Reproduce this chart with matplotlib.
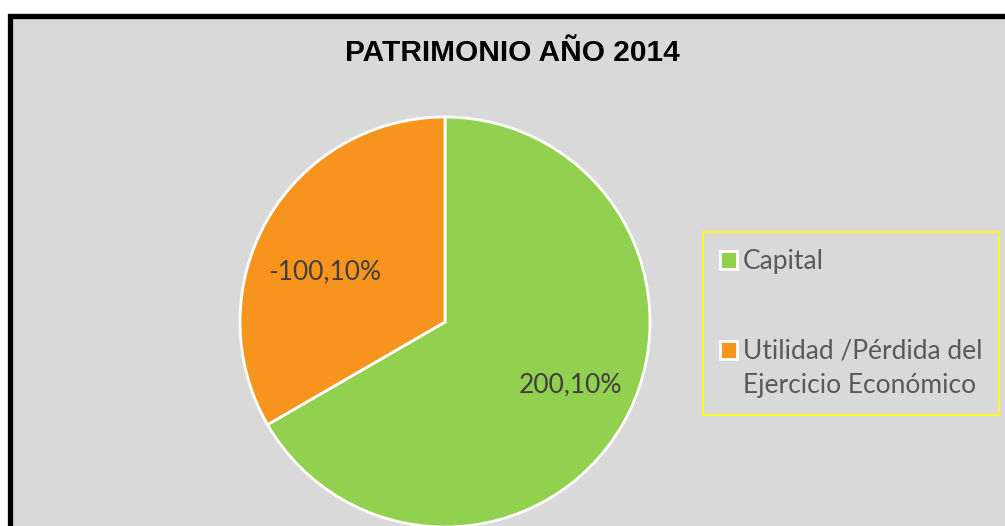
import matplotlib
matplotlib.use("Agg")
import matplotlib.pyplot as plt
from matplotlib.patches import Rectangle
from matplotlib.legend_handler import HandlerPatch

titulo = 'PATRIMONIO AÑO 2014'
categorias = ['Capital', 'Utilidad /Pérdida del\nEjercicio Económico']
valores = [200.10, -100.10]
etiquetas = ['200,10%', '-100,10%']
colores = ['#92d050', '#f7941d']

W, H = 1005, 526
fig = plt.figure(figsize=(W / 100, H / 100), dpi=100)
fig.patch.set_facecolor('white')

# fondo gris con borde negro (recortado a la derecha y abajo)
fig.patches.append(Rectangle((9.5 / W, -0.05), 1.1, 1 - 15.5 / H + 0.05,
                             transform=fig.transFigure, facecolor='#d9d9d9',
                             edgecolor='black', linewidth=3.8, zorder=-5))

fig.text(512 / W, 1 - 53 / H, titulo, ha='center', va='center',
         fontsize=21.5, fontweight='bold', family='Liberation Sans', color='black')

ax = fig.add_axes([240 / W, -1 / H, 410 / W, 410 / H])
ax.patch.set_visible(False)

wedges, _ = ax.pie([abs(v) for v in valores], colors=colores, startangle=90,
                   counterclock=False, radius=1,
                   wedgeprops=dict(edgecolor='white', linewidth=2))
ax.set_xlim(-1, 1); ax.set_ylim(-1, 1)
ax.axis('off')

# etiquetas de datos
pos_etq = [(570, 385), (325, 272)]
for (px, py), t in zip(pos_etq, etiquetas):
    fig.text(px / W, 1 - py / H, t, ha='center', va='center',
             fontsize=19, family='Lato', color='#404040')


# cuadrito de leyenda alineado con la primera linea del texto
def cuadro(legend, orig_handle, xdescent, ydescent, width, height, fontsize):
    desp = getattr(orig_handle, 'desp', 0)
    return Rectangle((-xdescent, -ydescent + desp), width, height)


handles = []
for c, cat in zip(colores, categorias):
    r = Rectangle((0, 0), 1, 1, facecolor=c, edgecolor='white', linewidth=2)
    r.desp = 13.5 * cat.count('\n')
    handles.append(r)

leg = fig.legend(handles, categorias, loc='upper left',
                 bbox_to_anchor=(703 / W, 1 - 232 / H),
                 handler_map={Rectangle: HandlerPatch(patch_func=cuadro)},
                 prop={'family': 'Lato', 'size': 19}, labelcolor='#595959',
                 frameon=True, fancybox=False, edgecolor='#ffff00', facecolor='none',
                 handlelength=0.65, handleheight=0.65, handletextpad=0.2,
                 labelspacing=2.45, borderpad=0.65, borderaxespad=0)
leg.get_frame().set_linewidth(1.5)
for t in leg.get_texts():
    t.set_linespacing(1.45)

plt.savefig('out.png', dpi=100)
